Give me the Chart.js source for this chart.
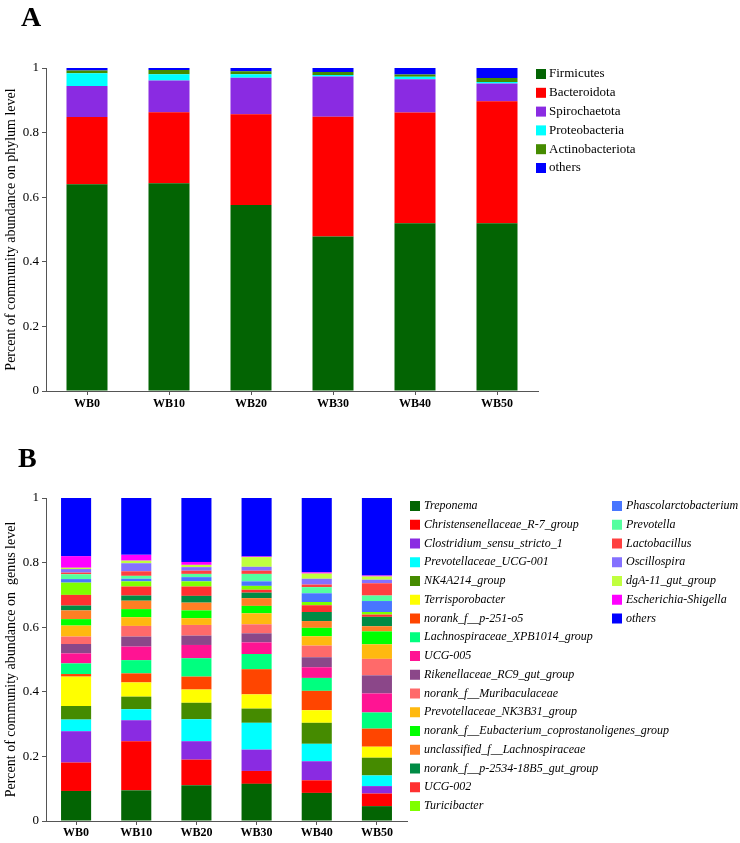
<!DOCTYPE html>
<html>
<head>
  <title>Community abundance</title>
  <script src="https://cdn.jsdelivr.net/npm/chart.js"></script>
  <style>
    body {
      margin: 0;
      background: #ffffff;
    }
    .panel {
      position: absolute;
      left: 0;
    }
    #chartA { top: 0; }
    #chartB { top: 420px; }
  </style>
</head>
<body>
  <canvas id="chartA" class="panel" width="740" height="420"></canvas>
  <canvas id="chartB" class="panel" width="740" height="423"></canvas>
  <script>
    const samples = ['WB0', 'WB10', 'WB20', 'WB30', 'WB40', 'WB50'];

    // phylum level (panel A)
    const phyla = ['Firmicutes', 'Bacteroidota', 'Spirochaetota', 'Proteobacteria', 'Actinobacteriota', 'others'];
    const firmicutes = [0.640, 0.643, 0.576, 0.478, 0.519, 0.519];
    const bacteroidota = [0.208, 0.220, 0.281, 0.371, 0.343, 0.378];
    const spirochaetota = [0.096, 0.098, 0.113, 0.125, 0.103, 0.055];
    const proteobacteria = [0.040, 0.020, 0.011, 0.004, 0.008, 0.005];
    const actinobacteriota = [0.008, 0.013, 0.009, 0.010, 0.007, 0.012];
    const phylumOthers = [0.008, 0.006, 0.010, 0.012, 0.020, 0.031];

    // genus level (panel B)
    const genera = [
      'Treponema', 'Christensenellaceae_R-7_group', 'Clostridium_sensu_stricto_1',
      'Prevotellaceae_UCG-001', 'NK4A214_group', 'Terrisporobacter', 'norank_f__p-251-o5',
      'Lachnospiraceae_XPB1014_group', 'UCG-005', 'Rikenellaceae_RC9_gut_group',
      'norank_f__Muribaculaceae', 'Prevotellaceae_NK3B31_group',
      'norank_f__Eubacterium_coprostanoligenes_group', 'unclassified_f__Lachnospiraceae',
      'norank_f__p-2534-18B5_gut_group', 'UCG-002', 'Turicibacter', 'Phascolarctobacterium',
      'Prevotella', 'Lactobacillus', 'Oscillospira', 'dgA-11_gut_group', 'Escherichia-Shigella', 'others'
    ];
    const treponema = [0.093, 0.095, 0.111, 0.115, 0.087, 0.046];
    const christensenellaceae = [0.088, 0.152, 0.079, 0.040, 0.039, 0.039];
    const clostridium = [0.097, 0.065, 0.057, 0.066, 0.059, 0.023];
    const prevotellaceaeUCG001 = [0.036, 0.034, 0.068, 0.083, 0.054, 0.033];
    const nk4a214 = [0.042, 0.039, 0.051, 0.044, 0.065, 0.055];
    const terrisporobacter = [0.091, 0.044, 0.041, 0.044, 0.039, 0.034];
    const p251o5 = [0.008, 0.028, 0.040, 0.078, 0.060, 0.056];
    const lachnoXPB1014 = [0.033, 0.041, 0.057, 0.047, 0.040, 0.050];
    const ucg005 = [0.031, 0.042, 0.041, 0.036, 0.033, 0.059];
    const rikenellaceae = [0.029, 0.031, 0.029, 0.028, 0.031, 0.056];
    const muribaculaceae = [0.023, 0.033, 0.033, 0.028, 0.036, 0.051];
    const nk3b31 = [0.034, 0.027, 0.021, 0.034, 0.029, 0.045];
    const eubacterium = [0.020, 0.025, 0.024, 0.023, 0.026, 0.040];
    const unclassLachno = [0.027, 0.026, 0.024, 0.024, 0.021, 0.016];
    const p2534 = [0.015, 0.016, 0.021, 0.017, 0.028, 0.029];
    const ucg002 = [0.033, 0.028, 0.029, 0.009, 0.021, 0.007];
    const turicibacter = [0.038, 0.016, 0.016, 0.012, 0.010, 0.008];
    const phascolarctobacterium = [0.011, 0.008, 0.013, 0.014, 0.027, 0.034];
    const prevotella = [0.015, 0.009, 0.010, 0.023, 0.019, 0.017];
    const lactobacillus = [0.005, 0.014, 0.010, 0.010, 0.008, 0.038];
    const oscillospira = [0.011, 0.025, 0.011, 0.012, 0.018, 0.011];
    const dgA11 = [0.004, 0.008, 0.007, 0.030, 0.016, 0.010];
    const escherichia = [0.036, 0.018, 0.009, 0.002, 0.004, 0.003];
    const genusOthers = [0.180, 0.176, 0.198, 0.181, 0.230, 0.240];

    const phylumColors = ['#036403', '#ff0000', '#8a2be2', '#00ffff', '#458b00', '#0000ff'];
    const genusColors = [
      '#036403', '#ff0000', '#8a2be2', '#00ffff', '#458b00', '#ffff00', '#ff4500',
      '#00ff7f', '#ff1493', '#8b4789', '#ff6a6a', '#ffb90f', '#00ff00', '#ff7f24',
      '#008b45', '#ff3030', '#7fff00', '#4876ff', '#54ff9f', '#ff4040', '#8470ff',
      '#c0ff3e', '#ff00ff', '#0000ff'
    ];

    const serif = '"Liberation Serif", "Times New Roman", serif';

    // panel letter + legend drawn on the canvas
    const panelLegend = {
      id: 'panelLegend',
      afterDraw(chart, args, opts) {
        const ctx = chart.ctx;
        ctx.save();
        ctx.fillStyle = '#000';
        ctx.textBaseline = 'alphabetic';
        ctx.textAlign = 'left';
        ctx.font = 'bold 28px ' + serif;
        ctx.fillText(opts.letter, opts.letterX, opts.letterY);
        ctx.textBaseline = 'middle';
        chart.data.datasets.forEach((ds, i) => {
          const col = Math.floor(i / opts.perCol);
          const row = i % opts.perCol;
          const x = opts.x + col * opts.colW;
          const y = opts.y + row * opts.rowH;
          ctx.fillStyle = ds.backgroundColor;
          ctx.fillRect(x, y - 5, 10, 10);
          ctx.fillStyle = '#000';
          ctx.font = (opts.italic ? 'italic ' : '') + opts.fontSize + 'px ' + serif;
          ctx.fillText(ds.label, x + opts.textGap, y);
        });
        ctx.restore();
      }
    };

    function tickText(v) {
      if (v === 0) return '0';
      if (v === 1) return '1';
      return v.toFixed(1);
    }

    function makeChart(id, names, series, colors, cfg) {
      const ctx = document.getElementById(id).getContext('2d');
      return new Chart(ctx, {
        type: 'bar',
        data: {
          labels: samples,
          datasets: series.map((vals, i) => ({
            label: names[i],
            data: vals,
            backgroundColor: colors[i],
            borderWidth: 0,
            barPercentage: 0.5,
            categoryPercentage: 1.0
          }))
        },
        options: {
          responsive: false,
          animation: false,
          layout: { padding: { top: cfg.top, right: cfg.right, left: 0, bottom: 0 } },
          plugins: {
            legend: { display: false },
            tooltip: { enabled: false },
            panelLegend: cfg.legend
          },
          scales: {
            x: {
              stacked: true,
              afterFit: function(scale) { scale.height = cfg.xHeight; },
              grid: { offset: false, drawOnChartArea: false, drawTicks: true, tickLength: 4, color: '#555' },
              border: { display: true, color: '#555' },
              ticks: { color: '#000', padding: cfg.xPad, font: { family: serif, size: 12, weight: 'bold' } }
            },
            y: {
              stacked: true,
              min: 0,
              max: 1,
              afterFit: function(scale) { scale.width = 46; },
              grid: { drawOnChartArea: false, drawTicks: true, tickLength: 4, color: '#555' },
              border: { display: true, color: '#555' },
              ticks: {
                stepSize: 0.2,
                color: '#000',
                padding: 3,
                font: { family: serif, size: 13 },
                callback: tickText
              },
              title: {
                display: true,
                text: cfg.yTitle,
                color: '#000',
                padding: { top: 3, bottom: 0 },
                font: { family: serif, size: 14 }
              }
            }
          }
        },
        plugins: [panelLegend]
      });
    }

    makeChart('chartA', phyla,
      [firmicutes, bacteroidota, spirochaetota, proteobacteria, actinobacteriota, phylumOthers],
      phylumColors,
      {
        top: 68, right: 202, xHeight: 29, xPad: 2,
        yTitle: 'Percent of community abundance on phylum level',
        legend: { letter: 'A', letterX: 21, letterY: 26, x: 536, y: 74, rowH: 18.8, perCol: 6, colW: 0, textGap: 13, fontSize: 13, italic: false }
      });

    makeChart('chartB', genera,
      [treponema, christensenellaceae, clostridium, prevotellaceaeUCG001, nk4a214, terrisporobacter,
       p251o5, lachnoXPB1014, ucg005, rikenellaceae, muribaculaceae, nk3b31, eubacterium,
       unclassLachno, p2534, ucg002, turicibacter, phascolarctobacterium, prevotella,
       lactobacillus, oscillospira, dgA11, escherichia, genusOthers],
      genusColors,
      {
        top: 78, right: 333, xHeight: 22, xPad: 1,
        yTitle: 'Percent of community abundance on  genus level',
        legend: { letter: 'B', letterX: 18, letterY: 47, x: 410, y: 86, rowH: 18.75, perCol: 17, colW: 202, textGap: 14, fontSize: 12, italic: true }
      });
  </script>
</body>
</html>
